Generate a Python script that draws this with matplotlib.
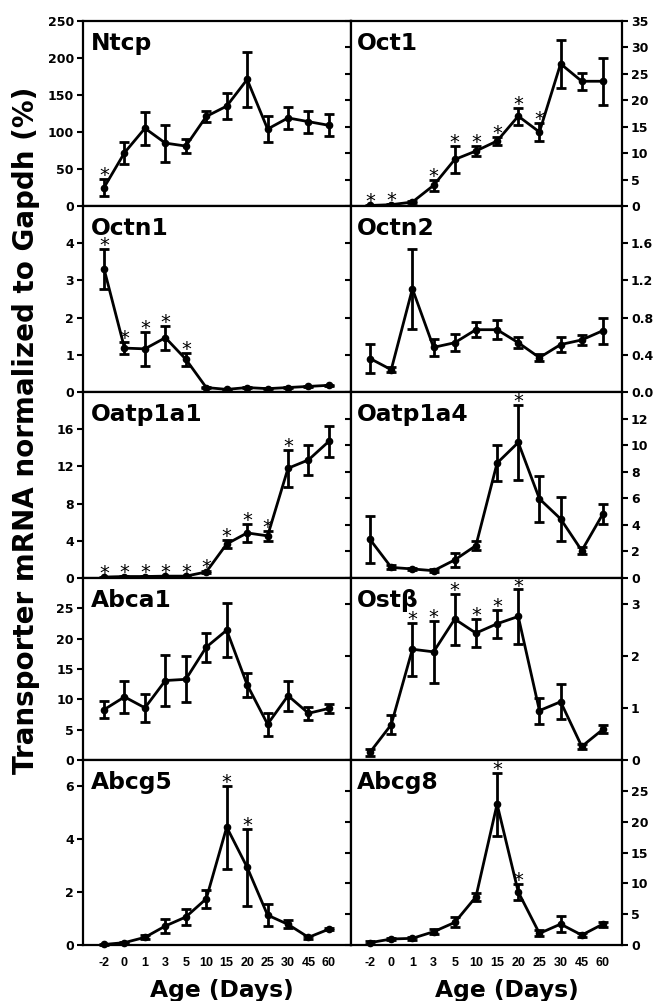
import matplotlib
matplotlib.use('Agg')
import matplotlib.pyplot as plt
import numpy as np

plt.rcParams['font.family'] = ['DejaVu Sans']

# ---------------- data ----------------
ages = ['-2', '0', '1', '3', '5', '10', '15', '20', '25', '30', '45', '60']

ntcp = [25, 72, 105, 85, 81, 121, 135, 171, 104, 119, 114, 109]
ntcp_err = [12, 15, 22, 25, 10, 8, 18, 37, 17, 15, 15, 15]
ntcp_sig = [0]

oct1 = [0.1, 0.25, 0.75, 3.9, 8.8, 10.4, 12.3, 17.0, 14.0, 26.9, 23.6, 23.6]
oct1_err = [0.1, 0.1, 0.2, 1.0, 2.5, 0.9, 0.8, 1.6, 1.7, 4.5, 1.6, 4.4]
oct1_sig = [0, 1, 3, 4, 5, 6, 7, 8]

octn1 = [3.31, 1.18, 1.16, 1.46, 0.88, 0.12, 0.07, 0.12, 0.09, 0.12, 0.15, 0.18]
octn1_err = [0.53, 0.16, 0.45, 0.32, 0.17, 0.02, 0.02, 0.02, 0.02, 0.02, 0.02, 0.02]
octn1_sig = [0, 1, 2, 3, 4]

octn2 = [0.36, 0.24, 1.11, 0.48, 0.53, 0.67, 0.67, 0.53, 0.37, 0.51, 0.56, 0.66]
octn2_err = [0.16, 0.03, 0.43, 0.09, 0.09, 0.08, 0.10, 0.06, 0.04, 0.08, 0.055, 0.14]
octn2_sig = []

oatp1a1 = [0.1, 0.16, 0.16, 0.2, 0.2, 0.65, 3.66, 4.85, 4.53, 11.8, 12.7, 14.7]
oatp1a1_err = [0.05, 0.05, 0.05, 0.05, 0.05, 0.1, 0.45, 0.95, 0.5, 2.0, 1.6, 1.65]
oatp1a1_sig = [0, 1, 2, 3, 4, 5, 6, 7, 8, 9]

oatp1a4 = [2.9, 0.8, 0.68, 0.55, 1.36, 2.44, 8.65, 10.2, 5.96, 4.45, 2.06, 4.83]
oatp1a4_err = [1.75, 0.15, 0.1, 0.1, 0.5, 0.35, 1.35, 2.8, 1.75, 1.65, 0.25, 0.75]
oatp1a4_sig = [7]

abca1 = [8.3, 10.4, 8.6, 13.1, 13.3, 18.6, 21.4, 12.4, 5.9, 10.6, 7.7, 8.5]
abca1_err = [1.4, 2.6, 2.3, 4.2, 3.8, 2.4, 4.5, 2.0, 1.9, 2.5, 1.1, 0.75]
abca1_sig = []

ostb = [0.15, 0.68, 2.13, 2.08, 2.71, 2.44, 2.62, 2.76, 0.95, 1.12, 0.26, 0.59]
ostb_err = [0.07, 0.18, 0.51, 0.6, 0.49, 0.27, 0.27, 0.52, 0.25, 0.34, 0.04, 0.08]
ostb_sig = [2, 3, 4, 5, 6, 7]

abcg5 = [0.02, 0.09, 0.29, 0.72, 1.06, 1.75, 4.46, 2.94, 1.13, 0.78, 0.29, 0.6]
abcg5_err = [0.02, 0.03, 0.07, 0.25, 0.3, 0.35, 1.57, 1.46, 0.41, 0.15, 0.05, 0.05]
abcg5_sig = [6, 7]

abcg8 = [0.38, 0.97, 1.08, 2.15, 3.66, 7.8, 22.85, 8.6, 1.88, 3.39, 1.61, 3.39]
abcg8_err = [0.2, 0.2, 0.2, 0.4, 0.8, 0.7, 5.1, 1.3, 0.5, 1.25, 0.3, 0.4]
abcg8_sig = [6, 7]

names = ['Ntcp', 'Oct1', 'Octn1', 'Octn2', 'Oatp1a1', 'Oatp1a4',
         'Abca1', 'Ost\u03b2', 'Abcg5', 'Abcg8']
values = [ntcp, oct1, octn1, octn2, oatp1a1, oatp1a4, abca1, ostb, abcg5, abcg8]
errors = [ntcp_err, oct1_err, octn1_err, octn2_err, oatp1a1_err, oatp1a4_err,
          abca1_err, ostb_err, abcg5_err, abcg8_err]
sigs = [ntcp_sig, oct1_sig, octn1_sig, octn2_sig, oatp1a1_sig, oatp1a4_sig,
        abca1_sig, ostb_sig, abcg5_sig, abcg8_sig]
ymax = [250, 35, 5, 2.0, 20, 14, 30, 3.5, 7, 30]
yticks = [[0, 50, 100, 150, 200, 250], [0, 5, 10, 15, 20, 25, 30, 35],
          [0, 1, 2, 3, 4], [0.0, 0.4, 0.8, 1.2, 1.6], [0, 4, 8, 12, 16],
          [0, 2, 4, 6, 8, 10, 12], [0, 5, 10, 15, 20, 25], [0, 1, 2, 3],
          [0, 2, 4, 6], [0, 5, 10, 15, 20, 25]]
ytlabels = [None, None, None, ['0.0', '0.4', '0.8', '1.2', '1.6'], None,
            None, None, None, None, None]

# ---------------- layout ----------------
W, H = 656, 1001
fig = plt.figure(figsize=(W / 100, H / 100), dpi=100)

cols = [(83, 351), (351, 622)]
rows = [21, 206, 392, 578, 760, 945]
xlims = [(-1.03, 12.08), (-0.9, 11.9)]

x = np.arange(len(ages))

for k in range(10):
    r, c = divmod(k, 2)
    l, rr = cols[c]
    t, b = rows[r], rows[r + 1]
    ax = fig.add_axes([l / W, 1 - b / H, (rr - l) / W, (b - t) / H])
    ax.errorbar(x, values[k], yerr=errors[k], fmt='-o', color='black',
                lw=2.0, ms=4.5, elinewidth=2.0, capsize=3.5, capthick=2.0,
                clip_on=False, zorder=3)
    for i in sigs[k]:
        ax.annotate('*', (x[i], values[k][i] + errors[k][i]),
                    xytext=(0, -1.5), textcoords='offset points',
                    ha='center', va='baseline', fontsize=14,
                    annotation_clip=False, zorder=4)
    ax.set_xlim(*xlims[c])
    ax.set_ylim(0, ymax[k])
    ax.set_yticks(yticks[k])
    if ytlabels[k] is not None:
        ax.set_yticklabels(ytlabels[k])
    for sp in ax.spines.values():
        sp.set_linewidth(1.6)
    if c == 0:
        ax.tick_params(axis='y', which='both', left=True, right=False,
                       labelleft=True, labelright=False, direction='out',
                       length=4, width=1.5, pad=2.5, labelsize=9)
    else:
        ax.tick_params(axis='y', which='both', left=True, right=True,
                       labelleft=False, labelright=True, direction='out',
                       length=4, width=1.5, pad=2.5, labelsize=9)
    for lab in ax.get_yticklabels():
        lab.set_fontweight('bold')
    ax.set_xticks(x)
    if r == 4:
        ax.set_xticklabels(ages, fontsize=9, fontweight='bold',
                           family=['Liberation Sans', 'DejaVu Sans'])
        ax.tick_params(axis='x', length=0, pad=8.5)
    else:
        ax.set_xticklabels([])
        ax.tick_params(axis='x', length=0)
    ax.text(0.03 if c == 0 else 0.022, 1 - 29 / (b - t), names[k],
            transform=ax.transAxes, fontsize=16.8, fontweight='bold',
            ha='left', va='baseline')

fig.text(26 / W, 1 - 430 / H, 'Transporter mRNA normalized to Gapdh (%)',
         rotation=90, fontsize=20, fontweight='bold', ha='center', va='center')
fig.text(222 / W, 1 - 997 / H, 'Age (Days)', fontsize=16.8,
         fontweight='bold', ha='center', va='baseline')
fig.text(507 / W, 1 - 997 / H, 'Age (Days)', fontsize=16.8,
         fontweight='bold', ha='center', va='baseline')

fig.savefig('out.png', dpi=100)
